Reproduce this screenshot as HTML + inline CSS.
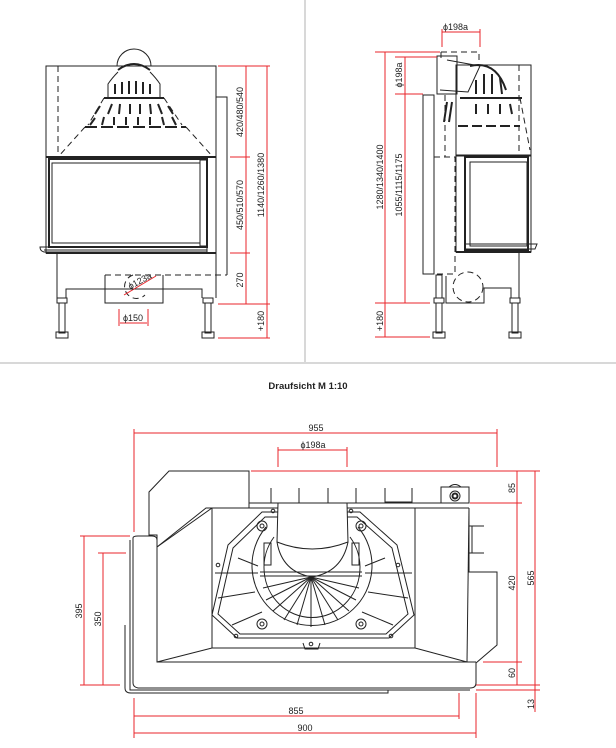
<!DOCTYPE html>
<html><head><meta charset="utf-8"><style>
html,body{margin:0;padding:0;background:#fff;}
svg{display:block;}
text{font-family:"Liberation Sans",sans-serif;font-size:9px;fill:#222;}
.k{stroke:#222;fill:none;stroke-width:1;}
.kw{stroke:#222;fill:#fff;stroke-width:1;}
.d{stroke:#222;fill:none;stroke-width:1;stroke-dasharray:6,4;}
.r{stroke:#e8262b;fill:none;stroke-width:1;}
.t{stroke:#222;stroke-width:2;fill:none;}
</style></head><body>
<svg width="616" height="748" viewBox="0 0 616 748" xmlns="http://www.w3.org/2000/svg">
<!-- dividers -->
<line x1="305" y1="0" x2="305" y2="362" stroke="#ccc" stroke-width="1.5"/>
<line x1="0" y1="363" x2="616" y2="363" stroke="#ccc" stroke-width="1.5"/>

<!-- ============ LEFT FRONT VIEW ============ -->
<rect x="46" y="66" width="170" height="91" class="k"/>
<line x1="58" y1="66" x2="58" y2="157" class="d"/>
<path d="M117 66 A17 17 0 0 1 151 66" class="k"/>
<path d="M118 70 Q134 58 150 70" class="t"/>
<path d="M108 98 L108 84 Q112 78 118 72 M160 98 L160 84 Q156 78 150 72" class="k"/>
<line x1="104" y1="98" x2="164" y2="98" class="t"/>
<g class="t" stroke-width="1.6">
<line x1="115" y1="84" x2="115" y2="94"/><line x1="122" y1="82" x2="122" y2="94"/><line x1="129" y1="81" x2="129" y2="94"/><line x1="136" y1="81" x2="136" y2="94"/><line x1="143" y1="82" x2="143" y2="94"/><line x1="150" y1="84" x2="150" y2="94"/>
<line x1="112" y1="104" x2="108" y2="114"/><line x1="120" y1="104" x2="119" y2="114"/><line x1="130" y1="104" x2="130" y2="114"/><line x1="140" y1="104" x2="140" y2="114"/><line x1="150" y1="104" x2="151" y2="114"/><line x1="158" y1="104" x2="162" y2="114"/>
<line x1="100" y1="106" x2="95" y2="114"/><line x1="168" y1="106" x2="173" y2="114"/>
<line x1="95" y1="118" x2="90" y2="125"/><line x1="104" y1="117" x2="102" y2="125"/><line x1="114" y1="117" x2="114" y2="125"/><line x1="126" y1="117" x2="126" y2="125"/><line x1="138" y1="117" x2="138" y2="125"/><line x1="150" y1="117" x2="150" y2="125"/><line x1="162" y1="117" x2="164" y2="125"/><line x1="172" y1="117" x2="176" y2="125"/>
</g>
<line x1="85" y1="127" x2="186" y2="127" class="t" stroke-dasharray="12,4"/>
<line x1="85" y1="127" x2="58" y2="157" class="d"/>
<line x1="186" y1="127" x2="213" y2="157" class="d"/>
<line x1="104" y1="98" x2="88" y2="125" class="d"/>
<line x1="164" y1="98" x2="182" y2="125" class="d"/>
<path d="M216 97 L227 97 L227 275" class="k"/>
<line x1="105" y1="275" x2="227" y2="275" class="d"/>
<!-- firebox -->
<rect x="46" y="157" width="170" height="96" class="k"/>
<rect x="49" y="159" width="158" height="88" class="t"/>
<rect x="52" y="163" width="148" height="80" class="k"/>
<rect x="200" y="160" width="7" height="86" class="k"/>
<line x1="46" y1="157" x2="216" y2="157" class="t"/>
<path d="M40 247 L207 247 L207 252 L44 252 Q40 251 40 247 Z" class="k"/>
<line x1="44" y1="250" x2="207" y2="250" class="k"/>
<line x1="46" y1="253" x2="216" y2="253" class="t"/>
<!-- lower -->
<line x1="57" y1="253" x2="57" y2="298" class="k"/>
<line x1="216" y1="253" x2="216" y2="298" class="k"/>
<path d="M66 298 L66 289 L202 289 L202 298" class="k"/>
<path d="M105 275 L105 303 L163 303 L163 275" class="k"/>
<path d="M133 275 A12 12 0 1 0 145 295" class="d" stroke-dasharray="4,3"/>
<line x1="124" y1="295" x2="156" y2="276" class="r"/>
<text x="128" y="287" transform="rotate(-28 134 284)">ϕ123a</text>
<g class="k">
<rect x="57" y="298" width="10" height="5"/><rect x="59" y="303" width="6" height="30"/><rect x="56" y="332" width="12" height="6"/>
<rect x="203" y="298" width="10" height="5"/><rect x="205" y="303" width="6" height="30"/><rect x="202" y="332" width="12" height="6"/>
</g>
<path d="M119 309 L119 326 M148 309 L148 326 M120 323 L147 323" class="r"/>
<text x="123" y="321">ϕ150</text>
<!-- dims -->
<g class="r">
<line x1="246" y1="66" x2="246" y2="304"/><line x1="267" y1="66" x2="267" y2="338"/>
<line x1="218" y1="66" x2="270" y2="66"/><line x1="230" y1="157" x2="250" y2="157"/><line x1="230" y1="253" x2="250" y2="253"/><line x1="218" y1="304" x2="270" y2="304"/><line x1="218" y1="338" x2="270" y2="338"/>
</g>
<text transform="translate(243 112) rotate(-90)" text-anchor="middle">420/480/540</text>
<text transform="translate(243 205) rotate(-90)" text-anchor="middle">450/510/570</text>
<text transform="translate(243 280) rotate(-90)" text-anchor="middle">270</text>
<text transform="translate(264 185) rotate(-90)" text-anchor="middle">1140/1260/1380</text>
<text transform="translate(264 321) rotate(-90)" text-anchor="middle">+180</text>

<!-- ============ RIGHT SIDE VIEW ============ -->
<text x="443" y="30">ϕ198a</text>
<path d="M442 29 L442 47 M480 29 L480 47 M442 32 L480 32" class="r"/>
<path d="M441 52 L479 52 L479 60" class="d" stroke-dasharray="5,3"/>
<line x1="441" y1="52" x2="441" y2="58" class="d"/>
<rect x="437" y="56" width="20" height="38" class="k"/>
<path d="M447 60 L480 66 L468 92 L440 90" class="k"/>
<rect x="456" y="65" width="75" height="91" class="k"/>
<line x1="519" y1="65" x2="519" y2="156" class="d"/>
<path d="M470 66 Q496 60 506 90" class="t"/>
<g class="t" stroke-width="1.5">
<line x1="476" y1="80" x2="476" y2="94"/><line x1="484" y1="74" x2="484" y2="94"/><line x1="492" y1="74" x2="492" y2="94"/><line x1="500" y1="78" x2="502" y2="94"/>
<line x1="476" y1="104" x2="476" y2="114"/><line x1="488" y1="104" x2="488" y2="114"/><line x1="500" y1="104" x2="500" y2="114"/><line x1="510" y1="104" x2="512" y2="114"/>
<line x1="447" y1="102" x2="444" y2="122"/><line x1="452" y1="102" x2="449" y2="122"/>
</g>
<line x1="460" y1="98" x2="522" y2="98" class="t"/>
<line x1="458" y1="126" x2="520" y2="126" class="t" stroke-dasharray="10,4"/>
<line x1="520" y1="98" x2="530" y2="150" class="d"/>
<rect x="423" y="95" width="11" height="179" class="k"/>
<path d="M434 157 L455 157 L455 274 L434 274" class="d"/>
<line x1="445" y1="95" x2="445" y2="157" class="d"/>
<rect x="456" y="155" width="75" height="97" class="k"/>
<rect x="465" y="157" width="63" height="93" class="t"/>
<rect x="470" y="162" width="57" height="84" class="k"/>
<path d="M465 244 L537 244 L535 249 L465 249" class="k"/>
<line x1="456" y1="252" x2="531" y2="252" class="t"/>
<line x1="519" y1="252" x2="519" y2="298" class="k"/>
<path d="M484 298 L484 288 L511 288 L511 298" class="k"/>
<rect x="436" y="275" width="6" height="23" class="k"/>
<path d="M446 276 L446 303 L484 303 L484 290" class="k"/>
<circle cx="468" cy="287" r="15" class="d" stroke-dasharray="4,3"/>
<g class="k">
<rect x="434" y="298" width="10" height="5"/><rect x="436" y="303" width="6" height="30"/><rect x="433" y="332" width="12" height="6"/>
<rect x="510" y="298" width="10" height="5"/><rect x="512" y="303" width="6" height="30"/><rect x="509" y="332" width="12" height="6"/>
</g>
<g class="r">
<line x1="385" y1="52" x2="385" y2="337"/><line x1="405" y1="57" x2="405" y2="303"/>
<line x1="375" y1="52" x2="440" y2="52"/><line x1="395" y1="57" x2="437" y2="57"/><line x1="395" y1="94" x2="423" y2="94"/><line x1="375" y1="303" x2="430" y2="303"/><line x1="375" y1="337" x2="430" y2="337"/>
</g>
<text transform="translate(383 177) rotate(-90)" text-anchor="middle">1280/1340/1400</text>
<text transform="translate(402 185) rotate(-90)" text-anchor="middle">1055/1115/1175</text>
<text transform="translate(402 75) rotate(-90)" text-anchor="middle">ϕ198a</text>
<text transform="translate(383 321) rotate(-90)" text-anchor="middle">+180</text>

<!-- ============ TOP VIEW ============ -->
<text x="308" y="389" text-anchor="middle" style="font-weight:bold;font-size:9.5px">Draufsicht M 1:10</text>
<!-- dims top -->
<g class="r">
<line x1="134" y1="433" x2="497" y2="433"/><line x1="134" y1="429" x2="134" y2="532"/><line x1="497" y1="429" x2="497" y2="467"/>
<line x1="278" y1="450" x2="347" y2="450"/><line x1="278" y1="447" x2="278" y2="467"/><line x1="347" y1="447" x2="347" y2="467"/>
<line x1="251" y1="471" x2="540" y2="471"/>
<line x1="470" y1="503" x2="522" y2="503"/><line x1="483" y1="662" x2="522" y2="662"/>
<line x1="476" y1="685" x2="540" y2="685"/><line x1="476" y1="690" x2="540" y2="690"/>
<line x1="517" y1="471" x2="517" y2="685"/><line x1="535" y1="471" x2="535" y2="712"/>
<line x1="80" y1="536" x2="130" y2="536"/><line x1="84" y1="536" x2="84" y2="685"/><line x1="80" y1="685" x2="120" y2="685"/>
<line x1="98" y1="553" x2="126" y2="553"/><line x1="103" y1="553" x2="103" y2="685"/>
<line x1="134" y1="698" x2="134" y2="738"/><line x1="459" y1="693" x2="459" y2="719"/><line x1="476" y1="693" x2="476" y2="738"/>
<line x1="134" y1="716" x2="459" y2="716"/><line x1="134" y1="733" x2="476" y2="733"/>
</g>
<text x="316" y="431" text-anchor="middle">955</text>
<text x="313" y="448" text-anchor="middle">ϕ198a</text>
<text transform="translate(515 488) rotate(-90)" text-anchor="middle">85</text>
<text transform="translate(515 583) rotate(-90)" text-anchor="middle">420</text>
<text transform="translate(534 578) rotate(-90)" text-anchor="middle">565</text>
<text transform="translate(515 673) rotate(-90)" text-anchor="middle">60</text>
<text transform="translate(534 704) rotate(-90)" text-anchor="middle">13</text>
<text transform="translate(82 611) rotate(-90)" text-anchor="middle">395</text>
<text transform="translate(101 619) rotate(-90)" text-anchor="middle">350</text>
<text x="296" y="714" text-anchor="middle">855</text>
<text x="305" y="731" text-anchor="middle">900</text>
<!-- body -->
<path d="M169 471 L249 471 L249 508 L206 508 L157 547 L157 535 L149 535 L149 492 Z" class="k"/>
<path d="M249 503 L469 503" class="k"/>
<path d="M249 508 L469 508" class="k"/>
<path d="M133 538 L133 683 Q133 687 138 688 L470 688 Q476 688 476 683 L476 663 L497 645 L497 572 L469 572 L469 508" class="k"/>
<path d="M133 538 Q133 536 138 536 L152 536 Q157 536 157 540 L157 662 L476 662" class="k"/>
<path d="M130 540 L130 690 L470 690" class="k"/>
<path d="M125 625 L125 688 Q125 693 131 693 L388 693 L388 690" class="k"/>
<line x1="469" y1="508" x2="467" y2="662" class="k"/>
<path d="M212 508 L212 648 L415 648 L415 508" class="k"/>
<line x1="157" y1="547" x2="212" y2="508" class="k"/>
<line x1="157" y1="662" x2="212" y2="648" class="k"/>
<line x1="415" y1="648" x2="467" y2="662" class="k"/>
<!-- fins -->
<g class="k">
<line x1="271" y1="488" x2="271" y2="503"/><line x1="299" y1="488" x2="299" y2="503"/>
<line x1="328" y1="488" x2="328" y2="503"/><line x1="356" y1="488" x2="356" y2="503"/>
<path d="M385 488 L385 502 L412 502 L412 488"/>
<rect x="441" y="487" width="28" height="16"/>
<path d="M469 526 L484 526 M469 553 L484 553 M472 526 L472 553"/>
</g>
<circle cx="455" cy="496" r="5" class="k"/><circle cx="455" cy="496" r="2.5" class="t"/>
<path d="M449 487 Q455 482 461 487" class="k"/>
<!-- octagon -->
<path d="M228 545 L262 512 L360 512 L397 545 L414 615 L389 638 L237 638 L212 615 Z" class="k"/>
<path d="M233 548 L265 517 L357 517 L392 548 L408 614 L386 634 L240 634 L218 614 Z" class="k"/>
<g class="k">
<line x1="215" y1="573" x2="258" y2="573"/><line x1="365" y1="573" x2="412" y2="573"/>
<line x1="218" y1="598" x2="255" y2="592"/><line x1="368" y1="592" x2="408" y2="598"/>
<line x1="232" y1="625" x2="262" y2="612"/><line x1="362" y1="612" x2="393" y2="625"/>
<line x1="238" y1="558" x2="258" y2="566"/><line x1="385" y1="558" x2="365" y2="566"/>
</g>
<circle cx="236" cy="636" r="1.8" class="k"/><circle cx="391" cy="636" r="1.8" class="k"/>
<circle cx="218" cy="565" r="1.8" class="k"/><circle cx="398" cy="565" r="1.8" class="k"/>
<circle cx="273" cy="511" r="1.8" class="k"/><circle cx="351" cy="511" r="1.8" class="k"/>
<!-- horseshoe -->
<path d="M266 527 A60 60 0 1 0 358 527" class="k"/>
<path d="M274 537 A48 50 0 1 0 350 537" class="k"/>
<g class="k">
<line x1="311" y1="577" x2="311" y2="627"/><line x1="311" y1="577" x2="297" y2="625"/><line x1="311" y1="577" x2="325" y2="625"/>
<line x1="311" y1="577" x2="284" y2="620"/><line x1="311" y1="577" x2="338" y2="620"/><line x1="311" y1="577" x2="273" y2="611"/><line x1="311" y1="577" x2="349" y2="611"/>
<line x1="311" y1="577" x2="266" y2="600"/><line x1="311" y1="577" x2="356" y2="600"/><line x1="311" y1="577" x2="263" y2="588"/><line x1="311" y1="577" x2="359" y2="588"/>
<line x1="260" y1="572" x2="362" y2="572"/><line x1="260" y1="576" x2="362" y2="576"/>
</g>
<circle cx="262" cy="526" r="5" class="k"/><circle cx="262" cy="526" r="2" class="k"/>
<circle cx="361" cy="526" r="5" class="k"/><circle cx="361" cy="526" r="2" class="k"/>
<circle cx="262" cy="624" r="5" class="k"/><circle cx="262" cy="624" r="2" class="k"/>
<circle cx="361" cy="624" r="5" class="k"/><circle cx="361" cy="624" r="2" class="k"/>
<rect x="264" y="543" width="7" height="22" class="k"/><rect x="352" y="543" width="7" height="22" class="k"/>
<path d="M303 643 L305 649 L318 649 L320 643" class="k"/><circle cx="311" cy="644" r="1.8" class="k"/>
<!-- flue -->
<path d="M278 503 L347 503 L348 542 Q312 556 277 542 Z" class="kw"/>
<path d="M277 542 Q282 572 312 577 Q342 572 348 542" class="k"/>
</svg>
</body></html>
